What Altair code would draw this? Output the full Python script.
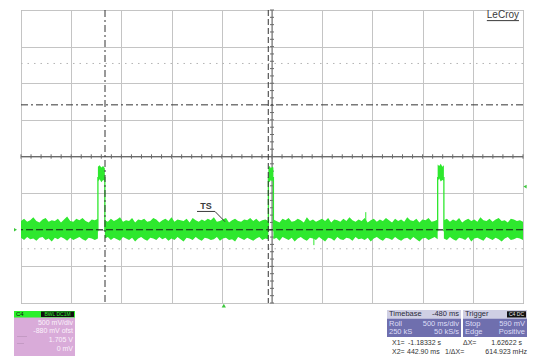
import altair as alt
import pandas as pd
import numpy as np

FONT = "Liberation Sans"
GREEN = "#2ee82e"

# ---- screen frame (time in s, voltage in V) ----
T_LEFT, T_RIGHT = -2.02, 2.98
V_BOTTOM, V_TOP = -1.0, 3.0
T_CENTER, V_CENTER = 0.48, 1.0

# ---- pulses: edges (s) and noisy tops (V) ----
pulse_start = [-1.254, 0.444, 2.130]
pulse_end = [-1.185, 0.494, 2.192]
pulse_hi = [[0.86, 0.88, 0.85, 0.87, 0.84],
            [0.85, 0.87, 0.84, 0.86, 0.85],
            [0.89, 0.87, 0.90, 0.86, 0.88]]
pulse_lo = [[0.66, 0.69, 0.65, 0.68, 0.67],
            [0.67, 0.65, 0.68, 0.66, 0.69],
            [0.67, 0.70, 0.66, 0.68, 0.67]]

# ---- baseline noise envelope per segment (V) ----
hi1 = [0.12, 0.15, 0.11, 0.13, 0.17, 0.12, 0.10, 0.14, 0.16, 0.11, 0.13, 0.12, 0.15,
       0.10, 0.14, 0.18, 0.12, 0.11, 0.15, 0.13, 0.16, 0.12, 0.10, 0.14, 0.13, 0.15]
lo1 = [-0.11, -0.14, -0.10, -0.13, -0.12, -0.15, -0.11, -0.10, -0.14, -0.12, -0.16, -0.11, -0.13,
       -0.10, -0.12, -0.15, -0.11, -0.14, -0.12, -0.10, -0.13, -0.15, -0.11, -0.12, -0.14, -0.12]
hi2 = [0.13, 0.11, 0.15, 0.12, 0.14, 0.17, 0.11, 0.13, 0.12, 0.16, 0.10, 0.14, 0.13, 0.15,
       0.11, 0.12, 0.16, 0.14, 0.10, 0.13, 0.15, 0.12, 0.17, 0.11, 0.14, 0.13, 0.12, 0.15,
       0.10, 0.16, 0.13, 0.11, 0.14, 0.12, 0.15, 0.13, 0.17, 0.11, 0.12, 0.14, 0.16, 0.10,
       0.13, 0.15, 0.12, 0.11, 0.14, 0.13, 0.16, 0.12, 0.15, 0.11, 0.13, 0.14, 0.12]
lo2 = [-0.12, -0.10, -0.14, -0.11, -0.13, -0.15, -0.10, -0.12, -0.14, -0.11, -0.16, -0.12, -0.10,
       -0.13, -0.15, -0.11, -0.12, -0.14, -0.10, -0.13, -0.11, -0.15, -0.12, -0.14, -0.10, -0.13,
       -0.16, -0.11, -0.12, -0.14, -0.10, -0.13, -0.15, -0.11, -0.12, -0.14, -0.13, -0.10, -0.15,
       -0.12, -0.11, -0.14, -0.13, -0.16, -0.10, -0.12, -0.14, -0.11, -0.13, -0.15, -0.12, -0.10,
       -0.14, -0.12, -0.13]
hi3 = [0.14, 0.12, 0.10, 0.15, 0.13, 0.16, 0.11, 0.12, 0.15, 0.13, 0.10, 0.17, 0.12, 0.14,
       0.11, 0.13, 0.15, 0.12, 0.16, 0.10, 0.14, 0.13, 0.11, 0.15, 0.12, 0.17, 0.13, 0.11,
       0.14, 0.12, 0.16, 0.10, 0.13, 0.15, 0.11, 0.14, 0.12, 0.16, 0.13, 0.10, 0.15, 0.12,
       0.14, 0.11, 0.17, 0.13, 0.12, 0.15, 0.10, 0.14, 0.13, 0.16, 0.11, 0.12, 0.14]
lo3 = [-0.13, -0.11, -0.15, -0.10, -0.12, -0.14, -0.11, -0.16, -0.12, -0.10, -0.13, -0.15, -0.11,
       -0.12, -0.14, -0.10, -0.13, -0.16, -0.11, -0.12, -0.15, -0.10, -0.13, -0.14, -0.11, -0.12,
       -0.15, -0.10, -0.13, -0.12, -0.14, -0.11, -0.16, -0.12, -0.10, -0.13, -0.15, -0.11, -0.12,
       -0.14, -0.10, -0.13, -0.15, -0.12, -0.11, -0.14, -0.10, -0.13, -0.16, -0.12, -0.11, -0.14,
       -0.12, -0.10, -0.13]
hi4 = [0.13, 0.15, 0.11, 0.14, 0.12, 0.16, 0.10, 0.13, 0.15, 0.12, 0.14, 0.11, 0.17,
       0.13, 0.12, 0.15, 0.11, 0.14, 0.16, 0.12, 0.13, 0.10, 0.15, 0.14, 0.12, 0.13, 0.11]
lo4 = [-0.12, -0.14, -0.10, -0.13, -0.15, -0.11, -0.12, -0.14, -0.10, -0.16, -0.12, -0.11, -0.13,
       -0.15, -0.10, -0.12, -0.14, -0.11, -0.13, -0.16, -0.12, -0.10, -0.14, -0.13, -0.11, -0.12, -0.14]

# isolated glitches (s, V)
spike_t = [1.414, 0.897]
spike_v = [0.24, -0.21]

# cursors / trigger (from the readout)
X1 = -1.18332
X2 = 0.44290
Y_CURSOR = 1.705
TRIG_LEVEL = 0.59
TRIG_TIME = 0.0
dotted_levels = [2.27, -0.26]

# ---- readout texts ----
ch_lines = ["500 mV/div", "-880 mV ofst", "1.705 V", "0 mV"]
tb_rows = [("Timebase", "-480 ms"), ("Roll", "500 ms/div"), ("250 kS", "50 kS/s")]
tr_rows = [("Trigger", ""), ("Stop", "590 mV"), ("Edge", "Positive")]

# ------------------------------------------------------------------
segs = [(T_LEFT, pulse_start[0], hi1, lo1),
        (pulse_end[0], pulse_start[1], hi2, lo2),
        (pulse_end[1], pulse_start[2], hi3, lo3),
        (pulse_end[2], T_RIGHT, hi4, lo4)]
rows = []
for i, (a, b, hi, lo) in enumerate(segs):
    ts = np.linspace(a, b, len(hi))
    for t, h, l in zip(ts, hi, lo):
        rows.append({"t": t, "hi": h, "lo": l, "seg": i})
noise = pd.DataFrame(rows)

prow = []
for i in range(3):
    ts = np.linspace(pulse_start[i], pulse_end[i], len(pulse_hi[i]))
    for t, h, l in zip(ts, pulse_hi[i], pulse_lo[i]):
        prow.append({"t": t, "hi": h, "lo": l, "p": i})
ptops = pd.DataFrame(prow)
pedges = pd.DataFrame({"t": pulse_start + pulse_end,
                       "v0": [-0.02] * 6, "v1": [0.72] * 6})

xs = alt.Scale(domain=[T_LEFT, T_RIGHT], nice=False, zero=False)
ys = alt.Scale(domain=[V_BOTTOM, V_TOP], nice=False, zero=False)
grid_t = [round(T_LEFT + 0.5 * k, 3) for k in range(11)]
grid_v = [round(V_BOTTOM + 0.5 * k, 3) for k in range(9)]
xaxis = alt.Axis(values=grid_t, grid=True, gridColor="#c4c4c4", gridWidth=1,
                 labels=False, ticks=False, domain=False, title=None)
yaxis = alt.Axis(values=grid_v, grid=True, gridColor="#c4c4c4", gridWidth=1,
                 labels=False, ticks=False, domain=False, title=None)


def X(f):
    return alt.X(f, type="quantitative", scale=xs, axis=xaxis)


def Y(f):
    return alt.Y(f, type="quantitative", scale=ys, axis=yaxis)


dummy = pd.DataFrame({"d": [0]})
OX, OY = 21, 10  # page position of plot origin


def rect(x1, y1, x2, y2, color):
    return alt.Chart(dummy).mark_rect(color=color).encode(
        x=alt.value(x1 - OX), x2=alt.value(x2 - OX),
        y=alt.value(y1 - OY), y2=alt.value(y2 - OY))


def text(s, x, y, align="left", color="#333333", size=7.5, weight="normal"):
    return alt.Chart(dummy).mark_text(
        text=s, align=align, baseline="middle", color=color, fontSize=size,
        font=FONT, fontWeight=weight).encode(x=alt.value(x - OX), y=alt.value(y - OY))


layers = []

# grid via axes
layers.append(alt.Chart(pd.DataFrame({"t": [T_LEFT], "v": [V_BOTTOM]}))
              .mark_point(opacity=0).encode(x=X("t"), y=Y("v")))

# dotted reference levels
layers.append(alt.Chart(pd.DataFrame({"v": dotted_levels})).mark_rule(
    color="#b4b4b4", strokeDash=[1.5, 5], strokeWidth=1).encode(y=Y("v")))

# center axes with ticks
layers.append(alt.Chart(pd.DataFrame({"v": [V_CENTER]})).mark_rule(
    color="#6a6a6a", strokeWidth=1).encode(y=Y("v")))
layers.append(alt.Chart(pd.DataFrame({"t": [T_CENTER]})).mark_rule(
    color="#6a6a6a", strokeWidth=1).encode(x=X("t")))
tick_t = pd.DataFrame({"t": [T_LEFT + 0.1 * k for k in range(51)]})
tick_t["a"] = V_CENTER - 0.03
tick_t["b"] = V_CENTER + 0.03
layers.append(alt.Chart(tick_t).mark_rule(color="#6a6a6a").encode(
    x=X("t"), y=Y("a"), y2="b"))
tick_v = pd.DataFrame({"v": [V_BOTTOM + 0.1 * k for k in range(41)]})
tick_v["a"] = T_CENTER - 0.02
tick_v["b"] = T_CENTER + 0.02
layers.append(alt.Chart(tick_v).mark_rule(color="#6a6a6a").encode(
    y=Y("v"), x=X("a"), x2="b"))

# trace: baseline noise band
layers.append(alt.Chart(noise).mark_area(color=GREEN, opacity=1).encode(
    x=X("t"), y=Y("hi"), y2="lo", detail="seg:N"))
# pulses
layers.append(alt.Chart(ptops).mark_area(color=GREEN, opacity=1).encode(
    x=X("t"), y=Y("hi"), y2="lo", detail="p:N"))
layers.append(alt.Chart(pedges).mark_rule(color=GREEN, strokeWidth=1.3).encode(
    x=X("t"), y=Y("v0"), y2="v1"))
spikes = pd.DataFrame({"t": spike_t, "v": spike_v, "z": [0.0, 0.0]})
layers.append(alt.Chart(spikes).mark_rule(color=GREEN, strokeWidth=1).encode(
    x=X("t"), y=Y("z"), y2="v"))

# ground reference dashed line
layers.append(alt.Chart(pd.DataFrame({"v": [0.0]})).mark_rule(
    color="#1a1a1a", strokeDash=[7, 3], strokeWidth=1).encode(y=Y("v")))

# cursors
layers.append(alt.Chart(pd.DataFrame({"v": [Y_CURSOR]})).mark_rule(
    color="#333333", strokeDash=[7, 3, 2, 3], strokeWidth=1).encode(y=Y("v")))
layers.append(alt.Chart(pd.DataFrame({"t": [X1]})).mark_rule(
    color="#333333", strokeDash=[7, 3, 2, 3], strokeWidth=1).encode(x=X("t")))
layers.append(alt.Chart(pd.DataFrame({"t": [X2]})).mark_rule(
    color="#333333", strokeDash=[6, 3], strokeWidth=1).encode(x=X("t")))

# markers
layers.append(alt.Chart(pd.DataFrame({"t": [3.0], "v": [TRIG_LEVEL]})).mark_point(
    shape="triangle-left", filled=True, color="#3cc83c", size=14, opacity=1).encode(
    x=X("t"), y=Y("v")))
layers.append(alt.Chart(pd.DataFrame({"t": [-2.075], "v": [0.0]})).mark_point(
    shape="triangle-right", filled=True, color="#3cc83c", size=12, opacity=1).encode(
    x=X("t"), y=Y("v")))
layers.append(alt.Chart(pd.DataFrame({"t": [TRIG_TIME], "v": [-1.035]})).mark_point(
    shape="triangle-up", filled=True, color="#3cc83c", size=18, opacity=1).encode(
    x=X("t"), y=Y("v")))

# TS annotation
layers.append(alt.Chart(pd.DataFrame({"t": [-0.177], "v": [0.33], "s": ["TS"]})).mark_text(
    font=FONT, fontSize=9, fontWeight="bold", color="#3a3a3a").encode(
    x=X("t"), y=Y("v"), text="s:N"))
layers.append(alt.Chart(pd.DataFrame({"a": [-0.267], "b": [-0.088], "v": [0.25]})).mark_rule(
    color="#3a3a3a").encode(x=X("a"), x2="b", y=Y("v")))
layers.append(alt.Chart(pd.DataFrame({"a": [-0.088], "b": [0.012], "v": [0.25], "w": [0.11]})).mark_rule(
    color="#3a3a3a").encode(x=X("a"), x2="b", y=Y("v"), y2="w"))

# LeCroy logo
layers.append(alt.Chart(pd.DataFrame({"t": [2.78], "v": [2.925], "s": ["LeCroy"]})).mark_text(
    font=FONT, fontSize=10, color="#3a3a3a").encode(x=X("t"), y=Y("v"), text="s:N"))
layers.append(alt.Chart(pd.DataFrame({"a": [2.62], "b": [2.94], "v": [2.855]})).mark_rule(
    color="#3a3a3a").encode(x=X("a"), x2="b", y=Y("v")))

# ---- channel readout panel ----
layers.append(rect(14, 311, 75, 356, "#d9abd9"))
layers.append(rect(14, 311, 75, 317.5, "#2af02a"))
layers.append(rect(41, 311.5, 74, 317, "#111111"))
layers.append(text("C4", 16, 314.3, color="#111111", size=6))
layers.append(text("BWL DC1M", 57.5, 314.3, align="center", color="#2af02a", size=5))
for s, yy in zip(ch_lines, [323, 331, 340, 349]):
    layers.append(text(s, 73, yy, align="right", color="#fbf2fb", size=7))
layers.append(rect(17, 336, 27, 336.7, "#bb93bb"))
layers.append(rect(17, 343, 24, 343.7, "#bb93bb"))

# ---- timebase / trigger panels ----
layers.append(rect(387, 310, 461, 337, "#6f6fae"))
layers.append(rect(387, 310, 461, 318.8, "#cfcfe4"))
layers.append(rect(463, 310, 527, 337, "#6f6fae"))
layers.append(rect(463, 310, 527, 318.8, "#cfcfe4"))
layers.append(rect(507, 311.3, 526, 317.5, "#111111"))
layers.append(text("C4 DC", 516.5, 314.4, align="center", color="#e8e8e8", size=5))
for (l, r), yy in zip(tb_rows, [314.4, 323.5, 332]):
    c = "#2a2a3a" if yy < 318 else "#dedef6"
    layers.append(text(l, 389, yy, color=c))
    layers.append(text(r, 459, yy, align="right", color=c))
for (l, r), yy in zip(tr_rows, [314.4, 323.5, 332]):
    c = "#2a2a3a" if yy < 318 else "#dedef6"
    layers.append(text(l, 465, yy, color=c))
    if r:
        layers.append(text(r, 525, yy, align="right", color=c))

layers.append(text("X1=", 392, 342.5, size=7))
layers.append(text("-1.18332 s", 408, 342.5, size=7))
layers.append(text("\u0394X=", 463, 342.5, size=7))
layers.append(text("1.62622 s", 522, 342.5, align="right", size=7))
layers.append(text("X2=", 392, 352, size=7))
layers.append(text("442.90 ms", 407, 352, size=7))
layers.append(text("1/\u0394X=", 445, 352, size=7))
layers.append(text("614.923 mHz", 527, 352, align="right", size=7))

chart = alt.layer(*layers).properties(
    width=502, height=293, autosize="none",
    padding={"left": 13, "top": 2, "right": 11, "bottom": 53},
    background="white",
).configure_view(stroke="#8c8c8c", strokeWidth=1)

chart.save("out.html", embed_options={"renderer": "svg", "actions": False})
